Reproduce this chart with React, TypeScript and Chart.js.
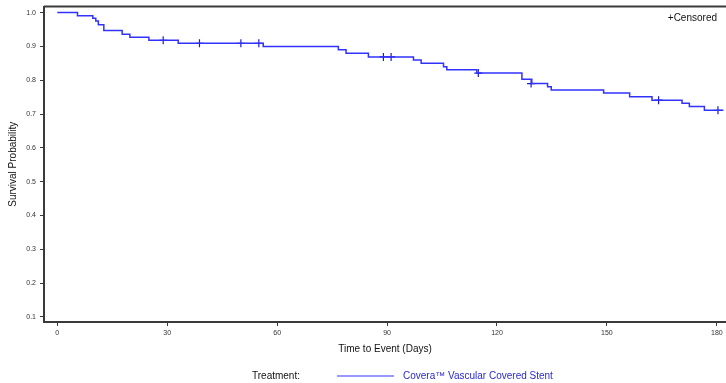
import React, { useEffect, useRef } from "react";
import { Chart, registerables } from "chart.js";

Chart.register(...registerables);

// Kaplan-Meier step curve: day of each drop and survival after it (last point = end of follow-up)
const eventDays = [0, 5.5, 9.7, 10.5, 11.2, 12.7, 17.7, 19.8, 25, 33, 56.2, 76.7, 78.8, 84.9, 97.2, 99.3, 105.4, 106.3, 114.5, 126.8, 129.5, 133.8, 134.8, 149.1, 156.2, 162.3, 170.5, 172.5, 176.6, 181.8];
const survival = [1.0, 0.991, 0.983, 0.975, 0.964, 0.947, 0.936, 0.927, 0.918, 0.909, 0.9, 0.89, 0.88, 0.869, 0.86, 0.85, 0.84, 0.831, 0.821, 0.803, 0.79, 0.781, 0.771, 0.762, 0.751, 0.741, 0.732, 0.722, 0.711, 0.711];

// Censored observations
const censorDays = [28.9, 38.8, 50.1, 55, 89, 91.1, 114.9, 129.3, 164.1, 180.3];
const censorValues = [0.918, 0.909, 0.909, 0.909, 0.869, 0.869, 0.821, 0.79, 0.741, 0.711];

const xTicks = [0, 30, 60, 90, 120, 150, 180];
const yTicks = [0.1, 0.2, 0.3, 0.4, 0.5, 0.6, 0.7, 0.8, 0.9, 1.0];

const seriesName = "Covera\u2122 Vascular Covered Stent";
const legendTitle = "Treatment:";
const censorLabel = "+Censored";

const FONT = "'Liberation Sans', Arial, sans-serif";
const LINE_COLOR = "#3232ff";
const AXIS_COLOR = "#3a3a3a";

const extrasPlugin = {
  id: "extras",
  afterDraw(chart: any) {
    const { ctx, chartArea } = chart;
    ctx.save();
    // top frame line
    ctx.strokeStyle = AXIS_COLOR;
    ctx.lineWidth = 2;
    ctx.beginPath();
    ctx.moveTo(chartArea.left, chartArea.top);
    ctx.lineTo(chartArea.right, chartArea.top);
    ctx.stroke();

    // censored note
    ctx.fillStyle = "#111";
    ctx.font = `10px ${FONT}`;
    ctx.textBaseline = "middle";
    ctx.textAlign = "right";
    ctx.fillText(censorLabel, 717, 18);

    // bottom legend
    const ly = 376;
    ctx.textAlign = "left";
    ctx.fillStyle = "#111";
    ctx.font = `10px ${FONT}`;
    ctx.fillText(legendTitle, 252, ly);
    ctx.strokeStyle = LINE_COLOR;
    ctx.lineWidth = 1.2;
    ctx.beginPath();
    ctx.moveTo(337, ly);
    ctx.lineTo(394, ly);
    ctx.stroke();
    ctx.fillStyle = "#2a2ad0";
    ctx.fillText(seriesName, 403, ly);
    ctx.restore();
  },
};

export default function App() {
  const ref = useRef<HTMLCanvasElement>(null);

  useEffect(() => {
    if (!ref.current) return;
    Chart.defaults.font.family = FONT;
    const chart = new Chart(ref.current, {
      type: "line",
      data: {
        datasets: [
          {
            data: eventDays.map((d, i) => ({ x: d, y: survival[i] })),
            stepped: "before",
            borderColor: LINE_COLOR,
            borderWidth: 1.5,
            pointRadius: 0,
            fill: false,
          },
          {
            data: censorDays.map((d, i) => ({ x: d, y: censorValues[i] })),
            showLine: false,
            pointStyle: "cross",
            pointRadius: 4,
            pointBorderColor: "#1a1ad8",
            pointBorderWidth: 1.2,
            borderColor: "#1a1ad8",
          },
        ],
      },
      options: {
        animation: false,
        responsive: false,
        layout: { autoPadding: false, padding: { top: 6.5, left: 0, right: 0, bottom: 0 } },
        plugins: { legend: { display: false }, tooltip: { enabled: false } },
        scales: {
          x: {
            type: "linear",
            min: -3.63,
            max: 182.5,
            afterBuildTicks: (s: any) => {
              s.ticks = xTicks.map((v) => ({ value: v }));
            },
            afterFit: (s: any) => {
              s.height = 61;
              s.paddingLeft = 0;
              s.paddingRight = 0;
            },
            ticks: { font: { size: 7 }, color: "#333", padding: 3, maxRotation: 0, autoSkip: false },
            grid: { drawOnChartArea: false, drawTicks: true, tickLength: 4, color: AXIS_COLOR },
            border: { display: true, color: AXIS_COLOR, width: 2 },
            title: {
              display: true,
              text: "Time to Event (Days)",
              font: { size: 10 },
              color: "#111",
              padding: { top: 0, bottom: 28 },
            },
          },
          y: {
            type: "linear",
            min: 0.085,
            max: 1.018,
            afterBuildTicks: (s: any) => {
              s.ticks = yTicks.map((v) => ({ value: v }));
            },
            afterFit: (s: any) => {
              s.width = 44;
              s.paddingTop = 0;
              s.paddingBottom = 0;
            },
            ticks: {
              font: { size: 7 },
              color: "#333",
              padding: 4,
              callback: (v: any) => Number(v).toFixed(1),
            },
            grid: { drawOnChartArea: false, drawTicks: true, tickLength: 4, color: AXIS_COLOR },
            border: { display: true, color: AXIS_COLOR, width: 2 },
            title: {
              display: true,
              text: "Survival Probability",
              font: { size: 10 },
              color: "#111",
              padding: { top: 7, bottom: 0 },
            },
          },
        },
      },
      plugins: [extrasPlugin],
    } as any);
    return () => chart.destroy();
  }, []);

  return (
    <div style={{ position: "fixed", left: 0, top: 0, width: 726, height: 383, background: "#fff" }}>
      <canvas ref={ref} width={726} height={383} />
    </div>
  );
}
